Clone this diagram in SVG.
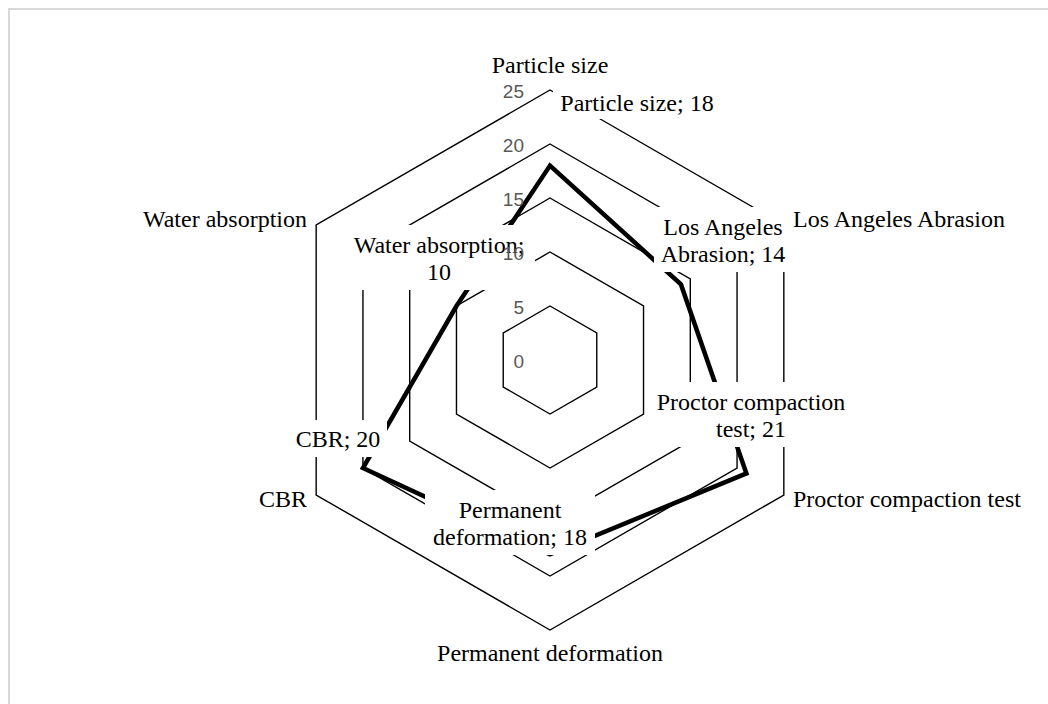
<svg xmlns="http://www.w3.org/2000/svg" width="1048" height="704" viewBox="0 0 1048 704">
<style>
.grid{fill:none;stroke:#000;stroke-width:1.4;stroke-linejoin:miter}
.series{fill:none;stroke:#000;stroke-width:4.5;stroke-linejoin:miter}
.cat{font-family:"Liberation Serif","Times New Roman",serif;font-size:24px;fill:#000}
.dl{font-family:"Liberation Serif","Times New Roman",serif;font-size:24px;fill:#000;text-anchor:middle}
.tick{font-family:"Liberation Sans",Arial,sans-serif;font-size:19px;fill:#595959;text-anchor:end}
.box{fill:#fff;stroke:none}
</style>
<rect x="0" y="0" width="1048" height="704" fill="#fff"/>
<path d="M9,704 V9 H1048" fill="none" stroke="#d9d9d9" stroke-width="2"/>
<g id="grid">
<polygon class="grid" points="550,306 596.77,333 596.77,387 550,414 503.23,387 503.23,333"/>
<polygon class="grid" points="550,252 643.53,306 643.53,414 550,468 456.47,414 456.47,306"/>
<polygon class="grid" points="550,198 690.30,279 690.30,441 550,522 409.70,441 409.70,279"/>
<polygon class="grid" points="550,144 737.06,252 737.06,468 550,576 362.94,468 362.94,252"/>
<polygon class="grid" points="550,90 783.83,225 783.83,495 550,630 316.17,495 316.17,225"/>
</g>
<g id="connectors">
<polygon class="series" points="550,165.6 680.94,284.4 746.41,473.4 550,554.4 362.94,468 456.47,306"/>
</g>
<g id="label-particle-size-18">
<rect class="box" x="553" y="86" width="168" height="33"/>
<text class="dl" x="637" y="111">Particle size; 18</text>
</g>
<g id="label-los-angeles-14">
<rect class="box" x="654" y="207" width="133" height="65"/>
<text class="dl" x="723" y="235">Los Angeles</text>
<text class="dl" x="723" y="262">Abrasion; 14</text>
</g>
<g id="label-proctor-21">
<rect class="box" x="650" y="382" width="202" height="65"/>
<text class="dl" x="751" y="410">Proctor compaction</text>
<text class="dl" x="751" y="437">test; 21</text>
</g>
<g id="label-permanent-18">
<rect class="box" x="425" y="490" width="170" height="65"/>
<text class="dl" x="510" y="518">Permanent</text>
<text class="dl" x="510" y="545">deformation; 18</text>
</g>
<g id="label-cbr-20">
<rect class="box" x="290" y="420" width="97" height="37"/>
<text class="dl" x="338" y="447">CBR; 20</text>
</g>
<g id="label-water-10">
<rect class="box" x="345" y="225" width="190" height="65"/>
<text class="dl" x="439" y="253">Water absorption;</text>
<text class="dl" x="439" y="280">10</text>
</g>
<g id="ticks">
<text class="tick" x="524" y="367.5">0</text>
<text class="tick" x="524" y="313.5">5</text>
<text class="tick" x="524" y="259.5">10</text>
<text class="tick" x="524" y="205.5">15</text>
<text class="tick" x="524" y="151.5">20</text>
<text class="tick" x="524" y="97.5">25</text>
</g>
<g id="axis-particle-size"><text class="cat" x="550" y="73" text-anchor="middle">Particle size</text></g>
<g id="axis-los-angeles"><text class="cat" x="793" y="227">Los Angeles Abrasion</text></g>
<g id="axis-proctor"><text class="cat" x="793" y="507">Proctor compaction test</text></g>
<g id="axis-permanent"><text class="cat" x="550" y="661" text-anchor="middle">Permanent deformation</text></g>
<g id="axis-cbr"><text class="cat" x="307" y="507" text-anchor="end">CBR</text></g>
<g id="axis-water"><text class="cat" x="307" y="227" text-anchor="end">Water absorption</text></g>
</svg>
